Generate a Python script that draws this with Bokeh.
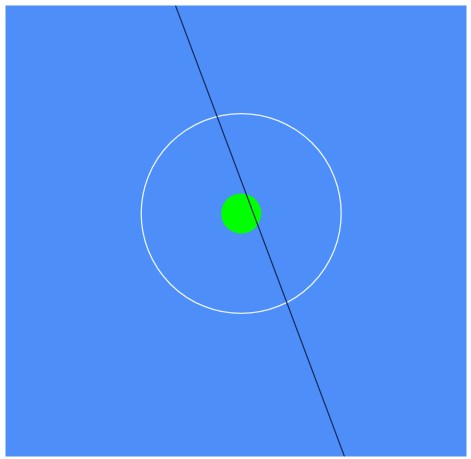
from bokeh.plotting import figure
from bokeh.embed import file_html
from bokeh.resources import INLINE
from bokeh.models import Range1d

# data
center_x = [0.0]
center_y = [0.0]
ring_radius = [1.0]
dot_radius = [0.2]
line_x = [-0.657, 1.033]
line_y = [2.08, -2.43]

p = figure(width=471, height=459, output_backend="svg", toolbar_location=None,
           x_range=Range1d(-2.357, 2.253), y_range=Range1d(-2.43, 2.08),
           min_border_left=5, min_border_right=5, min_border_top=5, min_border_bottom=3,
           background_fill_color="#4d8ef9", border_fill_color="white",
           outline_line_color=None)
p.axis.visible = False
p.grid.visible = False

p.circle(center_x, center_y, radius=ring_radius, fill_alpha=0,
         line_color="#e6f2ff", line_width=1.3)
p.circle(center_x, center_y, radius=dot_radius, fill_color="#00ff00",
         line_color="#00ff00", line_width=0)
p.line(line_x, line_y, line_color="#1b2b5c", line_width=1.2)

open("out.html", "w").write(file_html(p, INLINE))
